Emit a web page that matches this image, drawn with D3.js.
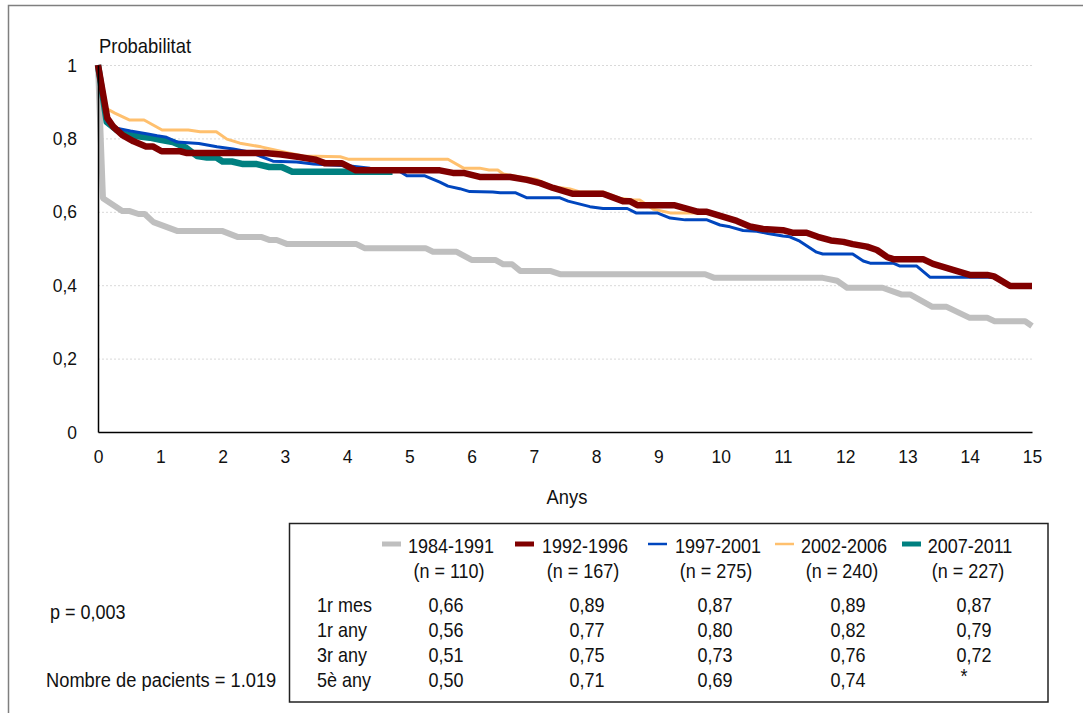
<!DOCTYPE html>
<html>
<head>
<meta charset="utf-8">
<script src="https://cdn.jsdelivr.net/npm/d3@7"></script>
<style>
  html, body { margin: 0; padding: 0; background: #fff; }
  svg { display: block; font-family: "Liberation Sans", Arial, sans-serif; }
  text { fill: #111; }
</style>
</head>
<body>
<svg id="chart" width="1083" height="713"></svg>
<script>
// ---------------- DATA ----------------
const seriesNames = ["1984-1991", "1992-1996", "1997-2001", "2002-2006", "2007-2011"];
const seriesN = ["(n = 110)", "(n = 167)", "(n = 275)", "(n = 240)", "(n = 227)"];
const seriesColors = ["#bfbfbf", "#800000", "#0046be", "#ffc06e", "#008080"];

const s1984 = [[0,1],[0.08,0.637],[0.39,0.602],[0.51,0.602],[0.65,0.594],[0.75,0.594],[0.89,0.572],[1.27,0.548],[1.99,0.548],[2.25,0.531],[2.63,0.531],[2.76,0.523],[2.87,0.523],[3.04,0.512],[4.15,0.512],[4.28,0.501],[5.26,0.501],[5.38,0.491],[5.76,0.491],[6.0,0.469],[6.38,0.469],[6.51,0.457],[6.65,0.457],[6.78,0.439],[7.26,0.439],[7.42,0.43],[9.75,0.43],[9.9,0.42],[11.64,0.42],[11.87,0.412],[12.03,0.393],[12.6,0.393],[12.9,0.375],[13.04,0.375],[13.4,0.341],[13.63,0.341],[14.0,0.311],[14.28,0.311],[14.4,0.302],[14.89,0.302],[15,0.289]];
const s1992 = [[0,1],[0.15,0.855],[0.25,0.831],[0.4,0.808],[0.57,0.792],[0.77,0.778],[0.88,0.778],[1.02,0.765],[1.32,0.765],[1.43,0.76],[2.68,0.76],[2.94,0.756],[3.2,0.75],[3.5,0.742],[3.65,0.732],[3.92,0.732],[4.14,0.713],[5.49,0.713],[5.7,0.706],[5.87,0.706],[6.13,0.695],[6.62,0.695],[6.89,0.687],[7.1,0.678],[7.31,0.665],[7.63,0.649],[8.11,0.649],[8.43,0.629],[8.54,0.629],[8.66,0.618],[9.25,0.618],[9.64,0.6],[9.78,0.6],[10.26,0.575],[10.47,0.56],[10.68,0.553],[11.0,0.55],[11.15,0.543],[11.38,0.543],[11.56,0.532],[11.77,0.522],[11.97,0.518],[12.12,0.512],[12.35,0.505],[12.51,0.496],[12.67,0.477],[12.77,0.471],[13.25,0.471],[13.41,0.458],[14.0,0.428],[14.28,0.428],[14.39,0.424],[14.65,0.398],[15,0.398]];
const s1997 = [[0,1],[0.15,0.845],[0.3,0.828],[0.52,0.82],[0.8,0.812],[0.95,0.807],[1.1,0.803],[1.27,0.79],[1.62,0.786],[1.91,0.777],[2.17,0.771],[2.45,0.762],[2.6,0.752],[2.81,0.738],[3.19,0.736],[3.46,0.73],[4.05,0.725],[4.37,0.719],[4.78,0.717],[4.96,0.698],[5.25,0.698],[5.49,0.681],[5.62,0.67],[5.81,0.663],[5.97,0.655],[6.34,0.654],[6.46,0.652],[6.7,0.652],[6.89,0.638],[7.42,0.638],[7.55,0.629],[7.9,0.614],[8.11,0.609],[8.5,0.609],[8.64,0.597],[8.98,0.597],[9.19,0.583],[9.43,0.578],[9.78,0.578],[9.99,0.564],[10.15,0.559],[10.36,0.549],[10.58,0.547],[10.76,0.541],[11.0,0.534],[11.11,0.532],[11.27,0.52],[11.54,0.49],[11.64,0.485],[12.12,0.485],[12.29,0.466],[12.4,0.46],[12.77,0.46],[12.88,0.452],[13.15,0.452],[13.36,0.422],[14.4,0.422]];
const s2002 = [[0,1],[0.1,0.885],[0.27,0.869],[0.51,0.85],[0.74,0.85],[1.03,0.823],[1.45,0.823],[1.64,0.818],[1.9,0.818],[2.07,0.798],[2.28,0.787],[2.62,0.777],[3.06,0.76],[3.3,0.752],[3.89,0.75],[4.03,0.743],[5.62,0.743],[5.87,0.719],[6.13,0.719],[6.28,0.714],[6.42,0.714],[6.51,0.703],[6.78,0.695],[7.05,0.688],[7.31,0.668],[7.58,0.662],[7.74,0.654],[8.11,0.654],[8.38,0.637],[8.6,0.632],[8.7,0.632],[8.92,0.607],[9.19,0.597],[9.65,0.597]];
const s2007 = [[0,1],[0.14,0.845],[0.3,0.823],[0.46,0.81],[0.67,0.805],[0.83,0.802],[1.0,0.796],[1.2,0.79],[1.4,0.776],[1.59,0.752],[1.75,0.748],[1.9,0.748],[2.0,0.737],[2.15,0.737],[2.33,0.73],[2.55,0.73],[2.75,0.722],[2.95,0.722],[3.12,0.709],[4.73,0.709]];

const xTicks = [0,1,2,3,4,5,6,7,8,9,10,11,12,13,14,15];
const yTicks = [0, 0.2, 0.4, 0.6, 0.8, 1];
const yTickLabels = ["0", "0,2", "0,4", "0,6", "0,8", "1"];

const rowLabels = ["1r mes", "1r any", "3r any", "5è any"];
const tab1984 = ["0,66", "0,56", "0,51", "0,50"];
const tab1992 = ["0,89", "0,77", "0,75", "0,71"];
const tab1997 = ["0,87", "0,80", "0,73", "0,69"];
const tab2002 = ["0,89", "0,82", "0,76", "0,74"];
const tab2007 = ["0,87", "0,79", "0,72", "*"];

const pText = "p = 0,003";
const nText = "Nombre de pacients = 1.019";
const yTitle = "Probabilitat";
const xTitle = "Anys";

// ---------------- DRAW ----------------
const svg = d3.select("#chart");
const SX = 0.9;   // horizontal condensing of the source font
const SXA = 0.92;

function txt(g, x, y, s, size, anchor, sx) {
  return g.append("text")
    .attr("transform", `translate(${x},${y}) scale(${sx || SX},1)`)
    .attr("text-anchor", anchor || "start")
    .style("font-size", size + "px")
    .text(s);
}

// outer frame
svg.append("rect").attr("x", 8.5).attr("y", 5.5).attr("width", 1100).attr("height", 730)
  .attr("fill", "none").attr("stroke", "#7f7f7f").attr("stroke-width", 1.5);

const x = d3.scaleLinear().domain([0, 15]).range([98, 1032]);
const y = d3.scaleLinear().domain([0, 1]).range([432, 65]);

// gridlines
const grid = svg.append("g").attr("transform", "translate(98,0)")
  .call(d3.axisLeft(y).tickValues(yTicks.filter(d => d > 0)).tickSize(-(1032 - 98)).tickFormat(""));
grid.select(".domain").remove();
grid.selectAll("line").attr("stroke", "#d9d9d9").attr("stroke-width", 1).attr("stroke-dasharray", "2,2");

// series lines
const line = d3.line().x(d => x(d[0])).y(d => y(d[1])).curve(d3.curveLinear);
const seriesData = [s1984, s1992, s1997, s2002, s2007];
const widths = [6, 6.5, 3, 3, 6.5];
const drawOrder = [0, 4, 3, 2, 1];
drawOrder.forEach(i => {
  svg.append("path").datum(seriesData[i]).attr("d", line)
    .attr("fill", "none").attr("stroke", seriesColors[i]).attr("stroke-width", widths[i])
    .attr("stroke-linejoin", "round").attr("stroke-linecap", "butt");
});

// axes
const yAxis = svg.append("g").attr("transform", "translate(98,0)")
  .call(d3.axisLeft(y).tickValues(yTicks).tickFormat((d, i) => yTickLabels[i]).tickSize(0).tickSizeOuter(0).tickPadding(21));
const xAxis = svg.append("g").attr("transform", "translate(0,432)")
  .call(d3.axisBottom(x).tickValues(xTicks).tickFormat(d => String(d)).tickSize(0).tickSizeOuter(0).tickPadding(18));
[yAxis, xAxis].forEach(a => {
  a.select(".domain").attr("stroke", "#000").attr("stroke-width", 1.5);
  a.selectAll("text")
    .style("font-size", "19px").style("font-family", "'Liberation Sans', Arial, sans-serif").attr("fill", "#111")
    .attr("x", function () { return (+this.getAttribute("x") || 0) / SXA; })
    .attr("transform", `scale(${SXA},1)`);
});

// axis titles
txt(svg, 99, 53, yTitle, 20, "start", SXA);
txt(svg, 567, 504, xTitle, 20, "middle", SXA);

// left annotations
txt(svg, 50, 619, pText, 20, "start");
txt(svg, 46, 687, nText, 20, "start", 0.915);

// table box
svg.append("rect").attr("x", 289.5).attr("y", 523.5).attr("width", 1048 - 289.5).attr("height", 702 - 523.5)
  .attr("fill", "none").attr("stroke", "#222").attr("stroke-width", 1.5);

const swatchX = [382, 515, 648, 775, 902];
const nameCX = [451, 585, 718, 844, 970];
const valueCX = [446, 587, 715, 848, 974];
const swatchW = [5, 5, 2.5, 2.5, 5];
const tables = [tab1984, tab1992, tab1997, tab2002, tab2007];
const rowY = [612, 637, 662, 687];

seriesNames.forEach((name, i) => {
  svg.append("line").attr("x1", swatchX[i]).attr("x2", swatchX[i] + 19)
    .attr("y1", 544).attr("y2", 544)
    .attr("stroke", seriesColors[i]).attr("stroke-width", swatchW[i]);
  txt(svg, nameCX[i], 553, name, 20, "middle");
  txt(svg, nameCX[i] - 2, 578, seriesN[i], 20, "middle");
  tables[i].forEach((v, r) => {
    if (v === "*") txt(svg, valueCX[i] - 10, rowY[r] - 4, v, 20, "middle");
    else txt(svg, valueCX[i], rowY[r], v, 20, "middle");
  });
});
rowLabels.forEach((lab, r) => txt(svg, 317, rowY[r], lab, 20, "start"));
</script>
</body>
</html>
